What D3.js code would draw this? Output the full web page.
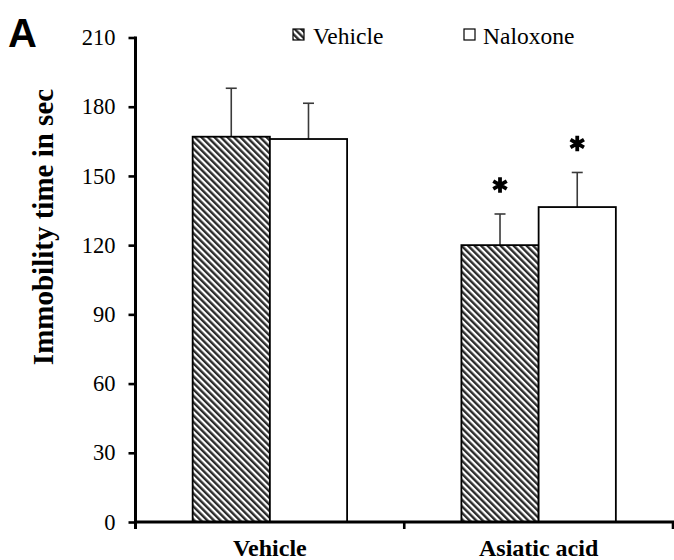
<!DOCTYPE html>
<html>
<head>
<meta charset="utf-8">
<script src="https://cdn.jsdelivr.net/npm/d3@7"></script>
<style>
  body { margin: 0; background: #fff; }
  text { font-family: 'Liberation Serif', 'Times New Roman', serif; }
</style>
</head>
<body>
<div id="chart"></div>
<script>
// data
var groups = ["Vehicle", "Asiatic acid"];
var series = ["Vehicle", "Naloxone"];
var vehicleMeans = [167, 120];
var vehicleErr = [21, 13.5];
var naloxoneMeans = [166, 136.5];
var naloxoneErr = [15.5, 15];
var vehicleSig = [false, true];
var naloxoneSig = [false, true];
var yTicks = [0, 30, 60, 90, 120, 150, 180, 210];

var width = 674, height = 560;
var plotLeft = 135.5, plotRight = 673, plotTop = 37.5, plotBottom = 522;
var serif = "'Liberation Serif', 'Times New Roman', serif";

// build rows for drawing
var rows = [];
groups.forEach(function(g, i) {
  rows.push({ group: g, series: series[0], value: vehicleMeans[i], err: vehicleErr[i], sig: vehicleSig[i] });
  rows.push({ group: g, series: series[1], value: naloxoneMeans[i], err: naloxoneErr[i], sig: naloxoneSig[i] });
});

var svg = d3.select("#chart")
  .append("svg")
    .attr("width", width)
    .attr("height", height);

// hatch pattern for the vehicle bars
var defs = svg.append("defs");
defs.append("pattern")
    .attr("id", "hatch")
    .attr("patternUnits", "userSpaceOnUse")
    .attr("width", 4.6)
    .attr("height", 4.6)
    .attr("patternTransform", "rotate(-45)")
  .append("rect")
    .attr("width", 2.4)
    .attr("height", 4.6)
    .attr("fill", "#2b2b2b");

var x0 = d3.scaleBand()
  .domain(groups)
  .range([plotLeft, plotRight]);

var x1 = d3.scaleBand()
  .domain(series)
  .range([0, x0.bandwidth()])
  .paddingOuter(0.74);

var y = d3.scaleLinear()
  .domain([0, 210])
  .range([plotBottom, plotTop]);

var fill = { "Vehicle": "url(#hatch)", "Naloxone": "#fff" };

// bars
var bar = svg.append("g").selectAll("g")
  .data(rows)
  .enter().append("g")
    .attr("transform", function(d) { return "translate(" + (x0(d.group) + x1(d.series)) + ",0)"; });

// error bars (upper only)
bar.append("line")
    .attr("x1", x1.bandwidth() / 2)
    .attr("x2", x1.bandwidth() / 2)
    .attr("y1", function(d) { return y(d.value); })
    .attr("y2", function(d) { return y(d.value + d.err); })
    .attr("stroke", "#3a3a3a")
    .attr("stroke-width", 1.6);
bar.append("line")
    .attr("x1", x1.bandwidth() / 2 - 5.5)
    .attr("x2", x1.bandwidth() / 2 + 5.5)
    .attr("y1", function(d) { return y(d.value + d.err); })
    .attr("y2", function(d) { return y(d.value + d.err); })
    .attr("stroke", "#3a3a3a")
    .attr("stroke-width", 1.6);

bar.append("rect")
    .attr("x", 0)
    .attr("width", x1.bandwidth())
    .attr("y", function(d) { return y(d.value); })
    .attr("height", function(d) { return y(0) - y(d.value); })
    .attr("fill", function(d) { return fill[d.series]; })
    .attr("stroke", "#000")
    .attr("stroke-width", 1.8);

// significance stars
bar.filter(function(d) { return d.sig; })
  .append("path")
    .attr("d", d3.symbol().type(d3.symbolAsterisk).size(170))
    .attr("transform", function(d) { return "translate(" + (x1.bandwidth() / 2) + "," + (y(d.value + d.err) - 29) + ")"; })
    .attr("stroke", "#000")
    .attr("stroke-width", 3.8)
    .attr("fill", "none");

// y axis
var yAxis = svg.append("g")
  .attr("transform", "translate(" + plotLeft + ",0)")
  .call(d3.axisLeft(y).tickValues(yTicks).tickSize(7).tickPadding(13).tickSizeOuter(0));
yAxis.select(".domain").remove();
yAxis.append("line")
  .attr("y1", plotTop - 1)
  .attr("y2", plotBottom + 7)
  .attr("stroke", "#000")
  .attr("stroke-width", 3);
yAxis.selectAll(".tick line").attr("stroke-width", 2.6);
yAxis.selectAll("text")
  .attr("fill", "#000")
  .attr("font-family", null)
  .attr("font-size", null)
  .style("font-family", serif)
  .style("font-size", "22.5px");

// x axis
var xAxis = svg.append("g")
  .attr("transform", "translate(0," + plotBottom + ")");
xAxis.append("line")
  .attr("x1", plotLeft)
  .attr("x2", plotRight + 1)
  .attr("stroke", "#000")
  .attr("stroke-width", 3);
xAxis.selectAll(".xtick")
  .data(groups.slice(1).concat(["end"]))
  .enter().append("line")
    .attr("x1", function(d) { return d === "end" ? plotRight : x0(d); })
    .attr("x2", function(d) { return d === "end" ? plotRight : x0(d); })
    .attr("y1", 0)
    .attr("y2", 7)
    .attr("stroke", "#000")
    .attr("stroke-width", 2.6);
xAxis.selectAll(".xlabel")
  .data(groups)
  .enter().append("text")
    .attr("x", function(d) { return x0(d) + x0.bandwidth() / 2; })
    .attr("y", 34)
    .attr("text-anchor", "middle")
    .style("font-family", serif)
    .style("font-weight", "bold")
    .style("font-size", "24px")
    .text(function(d) { return d; });

// y title
svg.append("text")
  .attr("transform", "translate(53,227) rotate(-90)")
  .attr("text-anchor", "middle")
  .style("font-family", serif)
  .style("font-weight", "bold")
  .style("font-size", "29px")
  .text("Immobility time in sec");

// panel letter
svg.append("text")
  .attr("x", 8)
  .attr("y", 47)
  .style("font-family", "'Liberation Sans', Arial, sans-serif")
  .style("font-weight", "bold")
  .style("font-size", "40px")
  .text("A");

// legend
var legendX = [293, 464];
var legend = svg.append("g").selectAll("g")
  .data(series)
  .enter().append("g")
    .attr("transform", function(d, i) { return "translate(" + legendX[i] + ",29)"; });
legend.append("rect")
    .attr("width", 11)
    .attr("height", 11)
    .attr("fill", function(d) { return fill[d]; })
    .attr("stroke", "#000")
    .attr("stroke-width", 1.2);
legend.append("text")
    .attr("x", function(d, i) { return i === 0 ? 20 : 19; })
    .attr("y", 15)
    .style("font-family", serif)
    .style("font-size", "23.5px")
    .text(function(d) { return d; });
</script>
</body>
</html>
